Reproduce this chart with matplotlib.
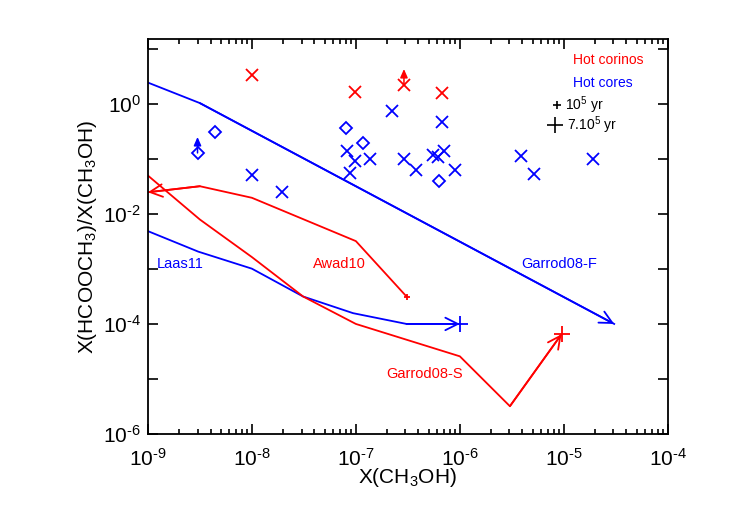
import numpy as np
import matplotlib
matplotlib.use('Agg')
import matplotlib.pyplot as plt
from matplotlib.ticker import FixedLocator, FuncFormatter, NullFormatter

plt.rcParams['font.family'] = 'Liberation Sans'
plt.rcParams['mathtext.fontset'] = 'custom'
plt.rcParams['mathtext.rm'] = 'Liberation Sans'
plt.rcParams['mathtext.it'] = 'Liberation Sans:italic'
plt.rcParams['mathtext.default'] = 'regular'

RED = '#ff0000'
BLUE = '#0000ff'

# hot corinos (red crosses), third one is a lower limit
corino_x = [1.0e-8, 0.98e-7, 2.9e-7, 6.8e-7]
corino_y = [3.35, 1.67, 2.2, 1.56]
corino_lim = [False, False, True, False]

# hot cores, crosses
core_x = [1.0e-8, 1.95e-8, 2.23e-7, 6.8e-7, 8.3e-8, 0.98e-7, 8.75e-8, 1.36e-7,
          2.9e-7, 3.78e-7, 5.47e-7, 6.18e-7, 7.0e-7, 8.9e-7, 3.87e-6, 5.18e-6,
          1.91e-5]
core_y = [0.050, 0.025, 0.75, 0.46, 0.141, 0.090, 0.0555, 0.101,
          0.100, 0.064, 0.119, 0.110, 0.137, 0.064, 0.114, 0.053,
          0.100]

# hot cores, diamonds (first one is a lower limit)
core_dx = [3.0e-9, 4.4e-9, 8.1e-8, 1.17e-7, 6.3e-7]
core_dy = [0.128, 0.307, 0.357, 0.194, 0.040]
core_dlim = [True, False, False, False, False]

# models
garrodF_x = [1e-9, 3.16e-9, 3.05e-5]
garrodF_y = [2.43, 1.03, 1e-4]

laas_x = [1e-9, 3.05e-9, 1e-8, 3.11e-8, 9.4e-8, 3.07e-7, 1e-6]
laas_y = [4.86e-3, 2.06e-3, 1.01e-3, 3.15e-4, 1.57e-4, 1e-4, 1e-4]

awad_x = [1e-9, 3.16e-9, 1e-8, 1e-7, 3.07e-7]
awad_y = [0.0247, 0.0318, 0.0196, 3.2e-3, 3.15e-4]

garrodS_x = [1e-9, 3.16e-9, 1e-8, 3.11e-8, 1e-7, 1e-6, 3.03e-6, 9.5e-6]
garrodS_y = [0.0497, 7.9e-3, 1.64e-3, 3.15e-4, 1e-4, 2.58e-5, 3.2e-6, 6.5e-5]

x_exps = [-9, -8, -7, -6, -5, -4]
y_exps = [-6, -5, -4, -3, -2, -1, 0, 1]


def arrow(ax, x0, y0, x1, y1, color, style='->,head_length=0.9,head_width=0.45', lw=1.3):
    ax.annotate('', xy=(x1, y1), xytext=(x0, y0),
                arrowprops=dict(arrowstyle=style, color=color, lw=lw,
                                shrinkA=0, shrinkB=0))


def pow_label(v):
    e = int(round(np.log10(v)))
    if e < 0:
        return r'$10^{\text{-}%d}$' % (-e)
    return '$10^{%d}$' % e


fig = plt.figure(figsize=(7.47, 5.28), dpi=100)
ax = fig.add_axes([0.198, 0.178, 0.696, 0.748])
ax.set_xscale('log')
ax.set_yscale('log')
ax.set_xlim(1e-9, 1e-4)
ax.set_ylim(1e-6, 15)

# model tracks
ax.plot(garrodF_x, garrodF_y, color=BLUE, lw=1.3)
arrow(ax, garrodF_x[-2], garrodF_y[-2], garrodF_x[-1], garrodF_y[-1], BLUE)

ax.plot(laas_x, laas_y, color=BLUE, lw=1.3)
arrow(ax, laas_x[-2], laas_y[-2], laas_x[-1], laas_y[-1], BLUE)
ax.plot(laas_x[-1], laas_y[-1], '+', color=BLUE, ms=12, mew=1.3)

ax.plot(awad_x, awad_y, color=RED, lw=1.3)
arrow(ax, awad_x[1], awad_y[1], awad_x[0], awad_y[0], RED)
ax.plot(awad_x[-1], awad_y[-1], '+', color=RED, ms=5, mew=1.3)

ax.plot(garrodS_x, garrodS_y, color=RED, lw=1.3)
arrow(ax, garrodS_x[-2], garrodS_y[-2], garrodS_x[-1], garrodS_y[-1], RED)
ax.plot(garrodS_x[-1], garrodS_y[-1], '+', color=RED, ms=12, mew=1.3)

# observations
ax.plot(corino_x, corino_y, 'x', color=RED, ms=8.5, mew=1.3, ls='none')
ax.plot(core_x, core_y, 'x', color=BLUE, ms=8.5, mew=1.3, ls='none')
ax.plot(core_dx, core_dy, 'D', color=BLUE, mfc='none', ms=6, mew=1.3, ls='none')

up = '-|>,head_length=0.5,head_width=0.22'
for xx, yy, lim in zip(corino_x, corino_y, corino_lim):
    if lim:
        arrow(ax, xx, yy, xx, yy * 1.95, RED, style=up, lw=1.1)
for xx, yy, lim in zip(core_dx, core_dy, core_dlim):
    if lim:
        arrow(ax, xx, yy, xx, yy * 1.95, BLUE, style=up, lw=1.1)

# model labels
ax.text(1.22e-9, 1.21e-3, 'Laas11', color=BLUE, fontsize=10.5, va='center')
ax.text(3.86e-8, 1.21e-3, 'Awad10', color=RED, fontsize=10.5, va='center')
ax.text(1.97e-7, 1.23e-5, 'Garrod08-S', color=RED, fontsize=10.5, va='center')
ax.text(3.92e-6, 1.21e-3, 'Garrod08-F', color=BLUE, fontsize=10.5, va='center')

# legend
ax.text(0.817, 0.947, 'Hot corinos', color=RED, fontsize=10, va='center',
        transform=ax.transAxes)
ax.text(0.817, 0.889, 'Hot cores', color=BLUE, fontsize=10, va='center',
        transform=ax.transAxes)
ax.plot([0.786], [0.833], '+', color='k', ms=5.5, mew=1.2, transform=ax.transAxes)
ax.text(0.803, 0.833, '$10^5$ yr', color='k', fontsize=10, va='center',
        transform=ax.transAxes)
ax.plot([0.783], [0.782], '+', color='k', ms=12, mew=1.2, transform=ax.transAxes)
ax.text(0.806, 0.782, '$7.10^5$ yr', color='k', fontsize=10, va='center',
        transform=ax.transAxes)

# ticks
ax.xaxis.set_major_locator(FixedLocator([10.0 ** e for e in x_exps]))
minors = [m * 10.0 ** e for e in x_exps[:-1] for m in range(2, 10)]
ax.xaxis.set_minor_locator(FixedLocator(minors))
ax.xaxis.set_minor_formatter(NullFormatter())
ax.xaxis.set_major_formatter(FuncFormatter(lambda v, p: pow_label(v)))

ax.yaxis.set_major_locator(FixedLocator([10.0 ** e for e in y_exps]))
ax.yaxis.set_minor_locator(FixedLocator([]))
ax.yaxis.set_major_formatter(FuncFormatter(
    lambda v, p: pow_label(v) if round(np.log10(v)) % 2 == 0 else ''))

ax.tick_params(which='both', direction='in', top=True, right=True,
               labelsize=15, width=1.2, colors='k')
ax.tick_params(which='major', length=7)
ax.tick_params(which='minor', length=3.5)
ax.tick_params(axis='x', pad=10)
ax.tick_params(axis='y', pad=5)
for s in ax.spines.values():
    s.set_linewidth(1.3)

ax.set_xlabel('X(CH$_3$OH)', fontsize=15, labelpad=-3)
ax.set_ylabel('X(HCOOCH$_3$)/X(CH$_3$OH)', fontsize=15, labelpad=2.5)

fig.savefig('out.png', dpi=100)
